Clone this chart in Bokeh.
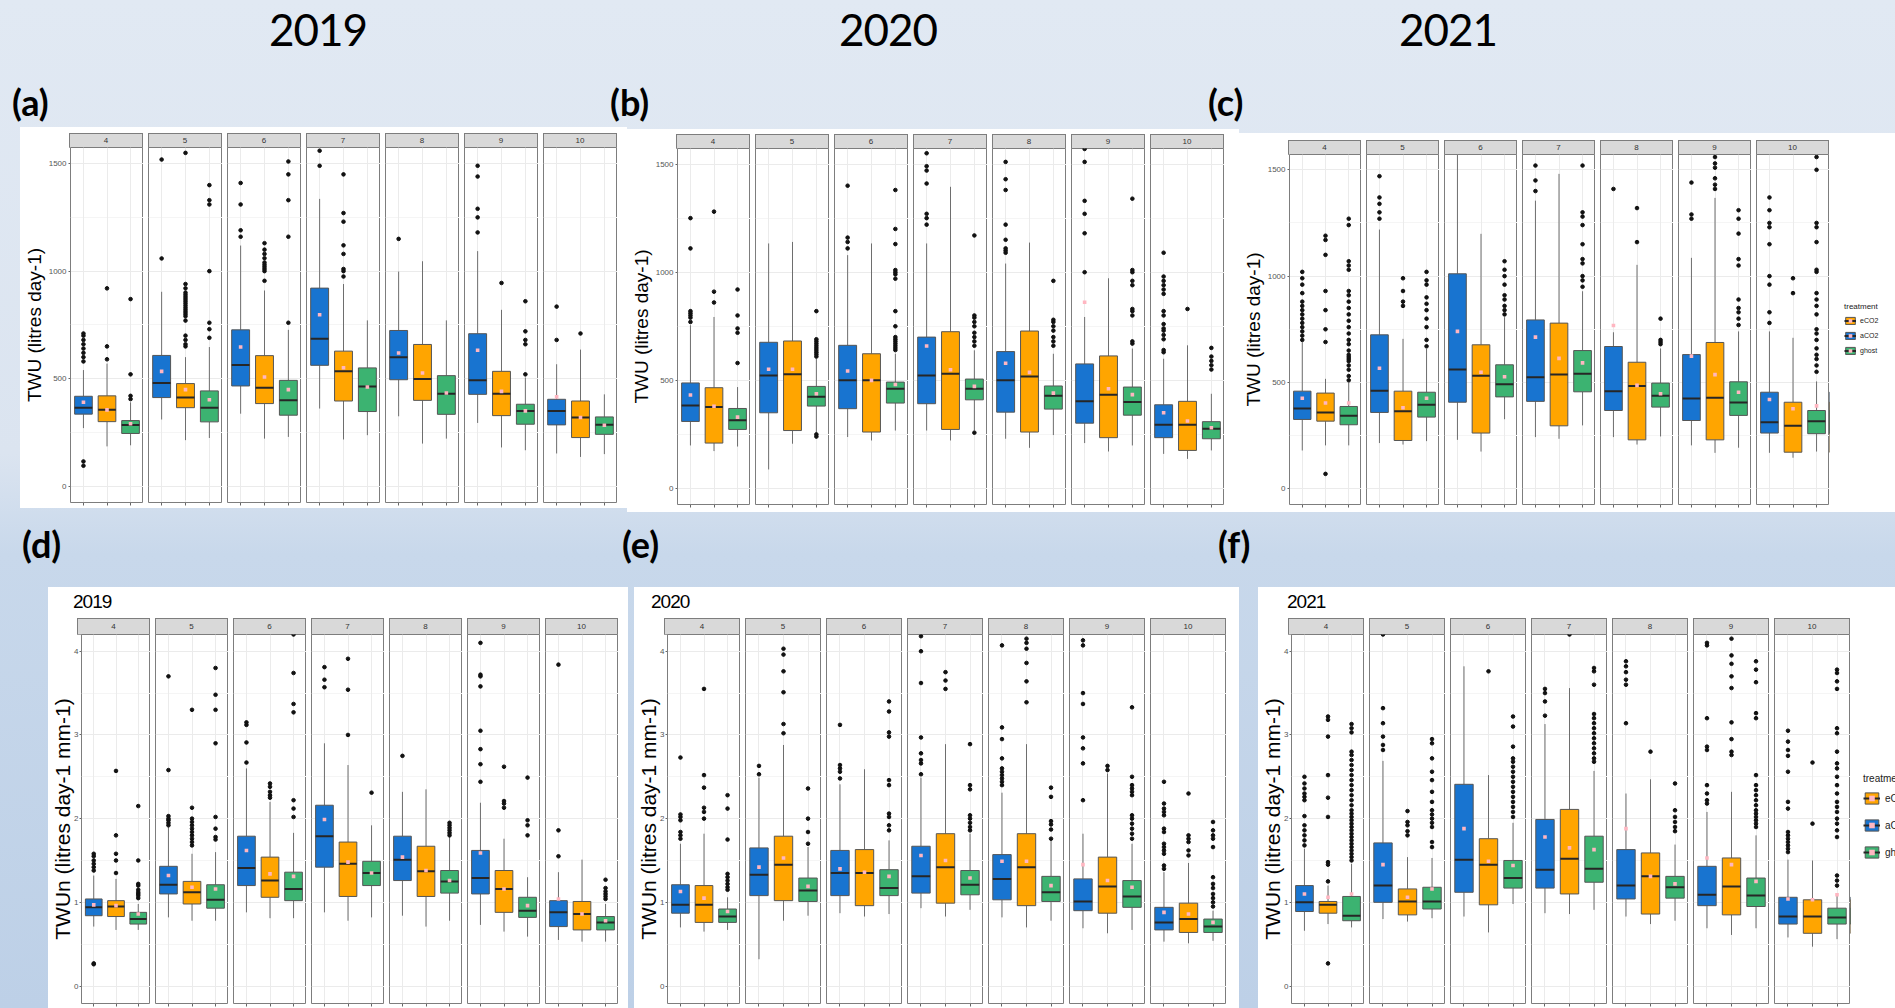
from bokeh.plotting import figure
from bokeh.models import (ColumnDataSource, Range1d, LinearAxis, FixedTicker, Grid, Div,
                          Spacer, Legend, LegendItem, CustomJSTickFormatter)
from bokeh.layouts import row, column
from bokeh.embed import file_html
from bokeh.resources import INLINE

# ---------------------------------------------------------------- data
months = ["4", "5", "6", "7", "8", "9", "10"]
treatments = ["aCO2", "eCO2", "ghost"]
legend_order = ["eCO2", "aCO2", "ghost"]
fill_colors = ["#1874d0", "#ffa500", "#3cb371"]
year_titles = ["2019", "2020", "2021"]
panel_letters = ["(a)", "(b)", "(c)", "(d)", "(e)", "(f)"]
twu_ticks = [0, 500, 1000, 1500]
twu_minor = [250, 750, 1250]
twun_ticks = [0, 1, 2, 3, 4]
twun_minor = [0.5, 1.5, 2.5, 3.5]

# (whisker low, q1, median, q3, whisker high, mean) per month x treatment
twu_2019_stats = [
    (270, 335, 365, 418, 540, 390), (185, 300, 355, 420, 570, 355), (190, 245, 285, 305, 390, 290),
    (310, 412, 480, 608, 904, 534), (214, 365, 412, 477, 600, 449), (224, 299, 365, 443, 647, 402),
    (337, 466, 563, 727, 1119, 647), (221, 384, 458, 607, 910, 508), (229, 330, 400, 492, 727, 449),
    (361, 562, 686, 921, 1336, 797), (217, 396, 534, 628, 940, 551), (237, 347, 464, 550, 771, 461),
    (325, 495, 600, 724, 998, 619), (198, 399, 498, 659, 1046, 526), (221, 334, 430, 514, 771, 433),
    (294, 427, 492, 709, 1093, 632), (180, 328, 430, 534, 820, 441), (167, 288, 350, 381, 505, 350),
    (152, 285, 350, 404, 567, 415), (136, 226, 319, 396, 635, 319), (149, 241, 286, 322, 427, 283),
]
twu_2019_out = [
    [580, 600, 620, 640, 660, 680, 700, 710, 115, 95], [590, 650, 920], [405, 420, 520, 870],
    [1059, 1519], [650, 660, 680, 700, 770, 790, 800, 810, 820, 830, 840, 850, 860, 870, 880, 890, 900, 920, 940, 1550],
    [690, 730, 760, 1000, 1310, 1330, 1400],
    [1160, 1190, 1310, 1410], [955, 1000, 1010, 1020, 1030, 1040, 1060, 1080, 1100, 1130], [760, 1160, 1330, 1450, 1510],
    [1490, 1560], [975, 1000, 1010, 1080, 1120, 1230, 1270, 1450], [],
    [1150], [], [],
    [1180, 1250, 1290, 1440, 1490], [945], [520, 660, 680, 720, 860],
    [680, 835], [710], [],
]

twu_2020_stats = [
    (199, 310, 384, 488, 755, 432), (173, 210, 377, 466, 793, 380), (194, 273, 315, 370, 469, 330),
    (88, 350, 523, 676, 1133, 551), (207, 268, 528, 682, 1140, 551), (238, 381, 424, 472, 600, 438),
    (238, 369, 500, 662, 1079, 543), (222, 261, 500, 623, 1133, 500), (268, 395, 461, 492, 623, 481),
    (268, 392, 523, 700, 1133, 659), (222, 273, 531, 725, 1395, 549), (268, 410, 461, 506, 639, 472),
    (230, 353, 500, 633, 1040, 579), (188, 261, 518, 728, 1137, 537), (247, 367, 429, 474, 623, 441),
    (210, 302, 403, 576, 793, 861), (171, 235, 434, 613, 972, 461), (199, 339, 400, 469, 647, 434),
    (160, 235, 295, 387, 600, 350), (137, 176, 295, 403, 662, 312), (176, 230, 276, 309, 438, 281),
]
twu_2020_out = [
    [770, 790, 800, 810, 820, 1110, 1250], [860, 910, 1280], [580, 720, 740, 800, 920],
    [], [], [240, 250, 610, 620, 630, 640, 650, 660, 670, 680, 690, 820],
    [1110, 1140, 1160, 1400], [], [640, 650, 660, 670, 680, 690, 700, 750, 820, 970, 990, 1000, 1010, 1130, 1200, 1380],
    [1220, 1250, 1270, 1410, 1470, 1490, 1550], [], [258, 660, 680, 700, 720, 750, 770, 790, 800, 1170],
    [1090, 1100, 1110, 1150, 1220, 1380, 1430, 1510], [], [660, 680, 700, 730, 750, 770, 780, 960],
    [1000, 1180, 1270, 1330, 1510, 1570], [], [670, 680, 800, 820, 830, 940, 960, 1000, 1010, 1340],
    [630, 640, 690, 710, 730, 740, 760, 800, 820, 900, 920, 940, 960, 980, 1090], [830], [550, 570, 590, 610, 650],
]

twu_2021_stats = [
    (180, 326, 378, 459, 689, 426), (204, 318, 359, 450, 517, 403), (204, 301, 343, 387, 500, 403),
    (215, 359, 461, 724, 1219, 567), (208, 227, 365, 459, 705, 381), (224, 337, 395, 454, 658, 426),
    (230, 407, 561, 1011, 1575, 740), (175, 262, 531, 677, 1199, 548), (327, 432, 492, 583, 807, 527),
    (243, 411, 525, 794, 1355, 713), (235, 296, 537, 779, 1481, 613), (298, 456, 541, 650, 929, 592),
    (243, 368, 459, 669, 736, 768), (208, 230, 483, 595, 1053, 486), (246, 384, 437, 497, 660, 447),
    (204, 321, 425, 631, 1086, 624), (169, 230, 428, 688, 1368, 537), (193, 345, 406, 503, 740, 454),
    (169, 262, 313, 454, 740, 420), (146, 172, 296, 407, 710, 376), (175, 259, 318, 368, 505, 390),
]
twu_2021_out = [
    [700, 720, 740, 760, 780, 800, 820, 840, 860, 880, 920, 960, 990, 1020],
    [70, 690, 750, 840, 930, 1100, 1170, 1190],
    [510, 530, 560, 580, 600, 610, 620, 630, 650, 680, 700, 730, 760, 790, 820, 850, 880, 910, 930, 1030, 1050, 1070, 1240, 1270],
    [1270, 1300, 1340, 1370, 1470], [860, 880, 930, 990], [670, 700, 760, 800, 840, 870, 900, 960, 980, 1020],
    [], [], [820, 840, 860, 890, 910, 960, 1000, 1030, 1070],
    [1400, 1450, 1520], [], [950, 980, 1000, 1060, 1080, 1150, 1240, 1280, 1300, 1520],
    [1410], [1160, 1320], [680, 690, 700, 800],
    [1270, 1290, 1440], [1410, 1430, 1460, 1510, 1530, 1560], [770, 800, 830, 850, 890, 1050, 1080, 1200, 1270, 1310],
    [780, 830, 960, 1000, 1150, 1230, 1250, 1310, 1370], [920, 990],
    [550, 580, 610, 630, 660, 700, 730, 750, 820, 860, 890, 920, 1020, 1030, 1160, 1230, 1250, 1500, 1560],
]

twun_2019_stats = [
    (0.71, 0.84, 0.94, 1.04, 1.32, 0.97), (0.67, 0.83, 0.95, 1.02, 1.28, 0.96), (0.67, 0.74, 0.80, 0.88, 0.98, 0.86),
    (0.82, 1.10, 1.21, 1.43, 1.90, 1.32), (0.78, 0.98, 1.12, 1.25, 1.58, 1.18), (0.78, 0.93, 1.03, 1.21, 1.60, 1.16),
    (0.88, 1.20, 1.41, 1.79, 2.60, 1.62), (0.81, 1.06, 1.26, 1.54, 2.20, 1.34), (0.81, 1.02, 1.16, 1.36, 1.83, 1.31),
    (0.88, 1.42, 1.79, 2.16, 2.90, 1.99), (0.78, 1.07, 1.46, 1.72, 2.64, 1.48), (0.82, 1.20, 1.35, 1.49, 1.92, 1.35),
    (0.84, 1.26, 1.51, 1.79, 2.32, 1.54), (0.71, 1.07, 1.37, 1.67, 2.35, 1.38), (0.78, 1.11, 1.25, 1.38, 1.78, 1.26),
    (0.73, 1.10, 1.29, 1.62, 2.19, 1.59), (0.65, 0.88, 1.16, 1.38, 1.76, 1.16), (0.59, 0.82, 0.90, 1.06, 1.30, 0.96),
    (0.55, 0.71, 0.88, 1.02, 1.36, 1.04), (0.53, 0.67, 0.86, 1.01, 1.51, 0.86), (0.53, 0.67, 0.76, 0.83, 0.98, 0.78),
]
twun_2019_out = [
    [1.38, 1.42, 1.46, 1.5, 1.55, 1.58, 0.27, 0.26], [1.35, 1.5, 1.58, 1.8, 2.57], [1.05, 1.08, 1.1, 1.12, 1.15, 1.2, 1.22, 1.5, 2.15],
    [1.92, 1.95, 1.98, 2.0, 2.03, 2.58, 3.7], [1.68, 1.72, 1.76, 1.8, 1.84, 1.88, 1.92, 1.96, 2.0, 2.13, 3.3],
    [1.75, 1.78, 1.88, 2.02, 2.9, 3.3, 3.48, 3.8],
    [2.67, 2.91, 3.12, 3.15], [2.25, 2.28, 2.32, 2.38, 2.42], [2.02, 2.12, 2.22, 3.27, 3.37, 3.74, 4.2],
    [3.57, 3.66, 3.81], [3.0, 3.54, 3.91], [2.31],
    [2.75], [], [1.8, 1.83, 1.86, 1.89, 1.92, 1.95],
    [2.44, 2.65, 2.83, 3.05, 3.58, 3.7, 3.72, 4.1], [2.13, 2.18, 2.21, 2.62], [1.80, 1.92, 1.98, 2.49],
    [1.55, 1.86, 3.84], [], [1.04, 1.07, 1.1, 1.13, 1.17, 1.27],
]

twun_2020_stats = [
    (0.70, 0.87, 0.97, 1.21, 1.70, 1.13), (0.65, 0.76, 0.97, 1.20, 1.82, 1.05), (0.67, 0.76, 0.83, 0.92, 1.06, 0.89),
    (0.32, 1.08, 1.33, 1.65, 2.49, 1.42), (0.78, 1.02, 1.45, 1.79, 2.88, 1.53), (0.84, 1.01, 1.14, 1.29, 1.66, 1.19),
    (0.87, 1.08, 1.35, 1.62, 2.41, 1.40), (0.83, 0.96, 1.35, 1.63, 2.59, 1.36), (0.86, 1.08, 1.17, 1.39, 1.74, 1.31),
    (0.93, 1.11, 1.31, 1.67, 2.49, 1.56), (0.83, 0.99, 1.42, 1.82, 2.89, 1.50), (0.91, 1.09, 1.21, 1.38, 1.82, 1.29),
    (0.82, 1.03, 1.28, 1.57, 2.31, 1.49), (0.70, 0.96, 1.42, 1.82, 2.89, 1.49), (0.78, 1.01, 1.12, 1.31, 1.74, 1.20),
    (0.69, 0.90, 1.01, 1.28, 1.82, 1.45), (0.63, 0.87, 1.19, 1.54, 2.54, 1.26), (0.67, 0.94, 1.07, 1.26, 1.70, 1.18),
    (0.53, 0.67, 0.76, 0.94, 1.36, 0.88), (0.51, 0.64, 0.80, 0.99, 1.47, 0.86), (0.54, 0.64, 0.71, 0.80, 0.90, 0.76),
]
twun_2020_out = [
    [1.76, 1.8, 1.84, 1.98, 2.02, 2.05, 2.73], [2.0, 2.08, 2.13, 2.37, 2.52, 3.55], [1.15, 1.18, 1.22, 1.26, 1.30, 1.34, 1.75, 2.12, 2.28],
    [2.53, 2.63], [3.02, 3.13, 3.51, 3.76, 3.96, 4.03], [1.7, 1.84, 2.0, 2.36],
    [2.48, 2.56, 2.6, 2.64, 3.12], [], [1.86, 1.92, 2.02, 2.06, 2.4, 2.46, 2.98, 3.03, 3.28, 3.4],
    [2.53, 2.66, 2.7, 2.78, 2.97, 3.62, 4.0, 4.18], [3.55, 3.65, 3.75], [1.86, 1.9, 1.95, 2.0, 2.04, 2.35, 2.4, 2.89],
    [2.4, 2.44, 2.48, 2.52, 2.56, 2.6, 2.72, 2.95, 3.09, 4.07], [3.39, 3.64, 3.86, 4.03, 4.1, 4.15], [1.76, 1.87, 1.93, 1.97, 2.26, 2.37],
    [2.22, 2.66, 2.84, 2.97, 3.37, 3.5, 4.07, 4.13], [2.58, 2.63],
    [1.76, 1.82, 1.88, 1.94, 2.0, 2.04, 2.28, 2.32, 2.36, 2.4, 2.5, 3.33],
    [1.4, 1.44, 1.58, 1.62, 1.66, 1.7, 1.84, 1.88, 2.04, 2.08, 2.12, 2.18, 2.44], [1.56, 1.62, 1.72, 1.76, 1.8, 2.3],
    [0.95, 1.0, 1.05, 1.1, 1.17, 1.22, 1.3, 1.66, 1.76, 1.8, 1.86, 1.96],
]

twun_2021_stats = [
    (0.66, 0.89, 1.00, 1.20, 1.64, 1.10), (0.74, 0.87, 0.97, 1.01, 1.20, 1.06), (0.70, 0.78, 0.84, 1.07, 1.46, 1.10),
    (0.80, 1.00, 1.20, 1.71, 2.69, 1.45), (0.77, 0.85, 1.01, 1.16, 1.54, 1.06), (0.81, 0.92, 1.01, 1.18, 1.53, 1.16),
    (0.83, 1.12, 1.51, 2.41, 3.82, 1.88), (0.64, 0.97, 1.45, 1.76, 2.52, 1.49), (0.98, 1.17, 1.29, 1.50, 1.95, 1.44),
    (0.87, 1.17, 1.39, 1.99, 3.13, 1.78), (0.86, 1.10, 1.52, 2.11, 3.56, 1.65), (0.91, 1.24, 1.40, 1.79, 2.57, 1.63),
    (0.83, 1.04, 1.20, 1.63, 2.30, 1.88), (0.74, 0.86, 1.31, 1.59, 2.47, 1.31), (0.78, 1.05, 1.18, 1.31, 1.69, 1.22),
    (0.69, 0.96, 1.09, 1.43, 2.08, 1.53), (0.61, 0.85, 1.19, 1.53, 2.32, 1.45), (0.69, 0.95, 1.08, 1.29, 1.80, 1.25),
    (0.58, 0.74, 0.83, 1.06, 1.51, 1.04), (0.47, 0.63, 0.83, 1.03, 1.50, 1.03), (0.56, 0.74, 0.82, 0.93, 1.09, 1.09),
]
twun_2021_out = [
    [1.68, 1.74, 1.8, 1.86, 1.92, 2.03, 2.22, 2.26, 2.3, 2.36, 2.42, 2.5],
    [0.27, 1.25, 1.45, 1.48, 2.02, 2.25, 2.52, 2.98, 3.18, 3.22],
    [1.5, 1.54, 1.58, 1.62, 1.66, 1.7, 1.74, 1.78, 1.82, 1.86, 1.9, 1.94, 1.98, 2.02, 2.06, 2.1, 2.16, 2.22, 2.28,
     2.34, 2.4, 2.46, 2.52, 2.58, 2.64, 2.7, 2.76, 2.8, 3.03, 3.08, 3.13],
    [2.82, 2.88, 2.98, 3.14, 3.32, 4.2], [1.8, 1.85, 1.92, 1.96, 2.09],
    [1.66, 1.72, 1.9, 1.95, 2.0, 2.05, 2.1, 2.2, 2.32, 2.46, 2.56, 2.72, 2.9, 2.95],
    [], [3.76], [2.02, 2.08, 2.14, 2.2, 2.26, 2.32, 2.38, 2.44, 2.5, 2.56, 2.62, 2.68, 2.72, 2.86, 3.1, 3.22],
    [3.23, 3.4, 3.5, 3.55], [4.2], [2.68, 2.72, 2.78, 2.84, 2.9, 2.96, 3.02, 3.08, 3.14, 3.2, 3.25, 3.6, 3.76, 3.8],
    [3.14, 3.6, 3.66, 3.75, 3.82, 3.88], [2.8], [1.85, 1.9, 1.96, 2.02, 2.1, 2.42],
    [2.18, 2.22, 2.3, 2.4, 2.82, 2.86, 3.2, 4.07, 4.1], [2.76, 2.8, 2.95, 3.15, 3.56, 3.7, 3.85, 3.95, 4.15],
    [1.9, 1.94, 1.98, 2.02, 2.06, 2.1, 2.16, 2.22, 2.28, 2.34, 2.4, 2.52, 3.2, 3.26, 3.63, 3.78, 3.88],
    [1.6, 1.64, 1.68, 1.72, 1.76, 1.8, 1.84, 2.12, 2.2, 2.56, 2.75, 2.82, 2.92, 3.05], [1.94, 2.67],
    [1.2, 1.26, 1.32, 1.78, 1.86, 1.94, 2.0, 2.08, 2.14, 2.2, 2.3, 2.4, 2.5, 2.6, 2.66, 2.8, 3.02, 3.08, 3.55, 3.64, 3.74, 3.78],
]

# ---------------------------------------------------------------- helpers
FONT = "Liberation Sans"
TITLE_FONT = "Lato"


def text_div(txt, w, h, size, lh, pad_left=0, weight="normal", family=FONT, align="left", spacing=0):
    html = (f'<div style="width:{w}px;height:{h}px;line-height:{lh}px;padding-left:{pad_left}px;'
            f'box-sizing:border-box;font-family:{family};font-size:{size}px;font-weight:{weight};'
            f'letter-spacing:{spacing}px;text-align:{align};color:#000;white-space:nowrap;">{txt}</div>')
    return Div(text=html, width=w, height=h, margin=0)


def strip_div(label, w, h, fs):
    html = (f'<div style="width:{w}px;height:{h}px;box-sizing:border-box;background:#d9d9d9;'
            f'border:1px solid #7d7d7d;text-align:center;line-height:{h - 2}px;font-family:{FONT};'
            f'font-size:{fs}px;color:#333;">{label}</div>')
    return Div(text=html, width=w, height=h, margin=0)


def sp(w, h):
    return Spacer(width=w, height=h, margin=0)


def month_source(stats, m):
    rows3 = stats[m * 3:(m + 1) * 3]
    xs = [i + 1 for i in range(len(treatments))]
    return ColumnDataSource(dict(
        x=xs, left=[x - 0.375 for x in xs], right=[x + 0.375 for x in xs],
        lo=[r[0] for r in rows3], q1=[r[1] for r in rows3], med=[r[2] for r in rows3],
        q3=[r[3] for r in rows3], hi=[r[4] for r in rows3], mean=[r[5] for r in rows3],
        color=fill_colors))


def draw_boxes(p, src):
    p.segment("x", "lo", "x", "q1", source=src, line_color="#6e6e6e", line_width=1)
    p.segment("x", "q3", "x", "hi", source=src, line_color="#6e6e6e", line_width=1)
    box = p.vbar(x="x", width=0.75, bottom="q1", top="q3", source=src,
                 fill_color="color", line_color="#555555", line_width=1)
    med = p.segment("left", "med", "right", "med", source=src, line_color="#262626", line_width=2)
    return box, med


def make_facet(stats, outs, m, cfg, first):
    fw = cfg["fw"]
    left = cfg["left"] if first else cfg["gap"]
    bottom = cfg["bottom"]
    p = figure(width=left + fw, height=cfg["fh"] + bottom,
               x_range=Range1d(0.45, 3.55), y_range=Range1d(cfg["y0"], cfg["y1"]),
               x_axis_type=None, y_axis_type=None, toolbar_location=None, output_backend="svg",
               min_border_left=left, min_border_right=0, min_border_top=0, min_border_bottom=bottom,
               background_fill_color="white", border_fill_color="white",
               outline_line_color="#7d7d7d", outline_line_width=1, margin=0)
    p.add_layout(Grid(dimension=1, ticker=FixedTicker(ticks=cfg["major"], minor_ticks=cfg["minor"]),
                      grid_line_color="#ebebeb", grid_line_width=1,
                      minor_grid_line_color="#f5f5f5", minor_grid_line_width=1))
    p.add_layout(Grid(dimension=0, ticker=FixedTicker(ticks=[1, 2, 3]),
                      grid_line_color="#ebebeb", grid_line_width=1))
    src = month_source(stats, m)
    draw_boxes(p, src)
    ox, oy = [], []
    for ti in range(len(treatments)):
        for v in outs[m * 3 + ti]:
            ox.append(ti + 1)
            oy.append(v)
    p.scatter(ox, oy, size=3.6, color="#111111")
    p.scatter("x", "mean", source=src, marker="square", size=3.6, fill_color="#ffb6c1", line_color=None)

    ax = LinearAxis(ticker=FixedTicker(ticks=[1, 2, 3]),
                    formatter=CustomJSTickFormatter(code="return ''"),
                    major_label_text_font_size="6px",
                    major_label_standoff=0, major_tick_in=0, major_tick_out=3, minor_tick_out=0,
                    axis_line_color=None, major_tick_line_color="#666666")
    p.add_layout(ax, "below")
    if first:
        ay = LinearAxis(ticker=FixedTicker(ticks=cfg["major"], minor_ticks=[]),
                        axis_label=cfg["ylabel"], axis_label_text_font=FONT,
                        axis_label_text_font_size=f'{cfg["ylabel_size"]}px',
                        axis_label_text_font_style="normal", axis_label_text_color="#000000",
                        axis_label_standoff=cfg["ylabel_standoff"],
                        major_label_text_font=FONT, major_label_text_font_size="8px",
                        major_label_text_color="#555555", major_label_standoff=cfg["tick_standoff"],
                        major_tick_in=0, major_tick_out=2, minor_tick_out=0, minor_tick_in=0,
                        axis_line_color=None, major_tick_line_color="#666666")
        p.add_layout(ay, "left")
    return p


def make_legend_fig(stats, cfg):
    lg = cfg["legend"]
    h = cfg["fh"] + cfg["bottom"]
    p = figure(width=lg["w"], height=h, x_range=Range1d(100, 101), y_range=Range1d(cfg["y0"], cfg["y1"]),
               x_axis_type=None, y_axis_type=None, toolbar_location=None, output_backend="svg",
               min_border_left=0, min_border_right=0, min_border_top=0, min_border_bottom=0,
               background_fill_color="white", border_fill_color="white", outline_line_color=None, margin=0)
    src = month_source(stats, len(months) - 1)
    box, med = draw_boxes(p, src)
    mn = p.scatter("x", "mean", source=src, marker="square", size=3.6, fill_color="#ffb6c1", line_color=None)
    items = [LegendItem(label=t, renderers=[box, med, mn], index=treatments.index(t)) for t in legend_order]
    leg = Legend(items=items, location=(lg["dx"], lg["y"]), title="treatment",
                 title_text_font=FONT, title_text_font_size=f'{lg["title_size"]}px',
                 title_text_font_style="normal", title_text_color="#222",
                 label_text_font=FONT, label_text_font_size=f'{lg["label_size"]}px',
                 label_text_color="#222",
                 glyph_width=lg["gw"], glyph_height=lg["gh"], label_height=lg["gh"],
                 label_standoff=lg["standoff"], spacing=lg["spacing"], title_standoff=lg["title_standoff"],
                 padding=0, margin=0, background_fill_alpha=0, border_line_color=None)
    p.add_layout(leg)
    return p


def make_panel(stats, outs, cfg):
    kids = []
    if cfg.get("top_pad"):
        kids.append(sp(cfg["width"], cfg["top_pad"]))
    if cfg.get("title"):
        kids.append(text_div(cfg["title"], cfg["width"], cfg["title_h"], cfg["title_size"],
                             cfg["title_h"], pad_left=cfg["title_x"], spacing=cfg["title_spacing"]))
    strips = [sp(cfg["left"], cfg["strip_h"])]
    for i, mlab in enumerate(months):
        if i:
            strips.append(sp(cfg["gap"], cfg["strip_h"]))
        strips.append(strip_div(mlab, cfg["fw"], cfg["strip_h"], cfg["strip_fs"]))
    used = cfg["left"] + 7 * cfg["fw"] + 6 * cfg["gap"]
    strips.append(sp(cfg["width"] - used, cfg["strip_h"]))
    kids.append(row(*strips, width=cfg["width"], height=cfg["strip_h"], margin=0))
    figs = [make_facet(stats, outs, m, cfg, m == 0) for m in range(len(months))]
    fig_h = cfg["fh"] + cfg["bottom"]
    if cfg.get("legend"):
        figs.append(make_legend_fig(stats, cfg))
        used += cfg["legend"]["w"]
    if cfg["width"] - used > 0:
        figs.append(sp(cfg["width"] - used, fig_h))
    kids.append(row(*figs, width=cfg["width"], height=fig_h, margin=0))
    total_h = cfg.get("top_pad", 0) + cfg.get("title_h", 0) + cfg["strip_h"] + fig_h
    return column(*kids, width=cfg["width"], height=total_h, margin=0,
                  styles={"background-color": "white"})


top_common = dict(major=twu_ticks, minor=twu_minor, ylabel="TWU (litres day-1)", ylabel_size=19,
                  ylabel_standoff=1, tick_standoff=2, strip_h=16, strip_fs=8, gap=5)
cfg_a = dict(top_common, width=607, top_pad=4, left=49, fw=74, fh=355, bottom=6, y1=1575, y0=-76)
cfg_b = dict(top_common, width=612, top_pad=3, left=49, fw=74, fh=356, bottom=8, y1=1572, y0=-74)
cfg_c = dict(top_common, width=656, top_pad=5, left=49, fw=73, fh=350, bottom=8, y1=1572, y0=-74,
             legend=dict(w=66, dx=15, y=149, title_size=8, label_size=7, gw=12, gh=9, standoff=4,
                         spacing=6, title_standoff=5))

bot_common = dict(major=twun_ticks, minor=twun_minor, ylabel="TWUn (litres day-1 mm-1)", ylabel_size=21,
                  ylabel_standoff=-3, tick_standoff=1, strip_h=17, strip_fs=8, y0=-0.209, y1=4.20,
                  gap=5, fh=369, bottom=5, title_h=30, title_size=19, title_spacing=-1)
cfg_d = dict(bot_common, width=580, left=29, fw=73, title="2019", title_x=25)
cfg_e = dict(bot_common, width=605, left=30, fw=76, title="2020", title_x=17)
cfg_f = dict(bot_common, width=637, left=30, fw=76, title="2021", title_x=29,
             legend=dict(w=45, dx=13, y=144, title_size=10, label_size=10, gw=17, gh=14, standoff=5,
                         spacing=13, title_standoff=7))

panel_a = make_panel(twu_2019_stats, twu_2019_out, cfg_a)
panel_b = make_panel(twu_2020_stats, twu_2020_out, cfg_b)
panel_c = make_panel(twu_2021_stats, twu_2021_out, cfg_c)
panel_d = make_panel(twun_2019_stats, twun_2019_out, cfg_d)
panel_e = make_panel(twun_2020_stats, twun_2020_out, cfg_e)
panel_f = make_panel(twun_2021_stats, twun_2021_out, cfg_f)

W = 1895

titles_row = row(
    text_div(year_titles[0], 636, 74, 44, 58, align="center", family=TITLE_FONT, spacing=-1),
    text_div(year_titles[1], 504, 74, 44, 58, align="center", family=TITLE_FONT, spacing=-1),
    text_div(year_titles[2], 616, 74, 44, 58, align="center", family=TITLE_FONT, spacing=-1),
    sp(W - 1756, 74), width=W, height=74, margin=0)

labels_row1 = row(
    text_div(panel_letters[0], 610, 50, 36, 56, pad_left=12, weight="bold", family=TITLE_FONT),
    text_div(panel_letters[1], 598, 50, 36, 56, pad_left=0, weight="bold", family=TITLE_FONT),
    text_div(panel_letters[2], W - 1208, 50, 36, 56, pad_left=0, weight="bold", family=TITLE_FONT),
    width=W, height=50, margin=0)

panels_row1 = row(
    sp(20, 388),
    column(sp(607, 3), panel_a, width=607, height=388, margin=0),
    column(sp(612, 5), panel_b, width=612, height=388, margin=0),
    column(sp(656, 9), panel_c, width=656, height=388, margin=0),
    width=W, height=388, margin=0)

labels_row2 = row(
    text_div(panel_letters[3], 622, 75, 36, 64, pad_left=22, weight="bold", family=TITLE_FONT),
    text_div(panel_letters[4], 596, 75, 36, 64, pad_left=0, weight="bold", family=TITLE_FONT),
    text_div(panel_letters[5], W - 1218, 75, 36, 64, pad_left=0, weight="bold", family=TITLE_FONT),
    width=W, height=75, margin=0)

panels_row2 = row(
    sp(48, 421), panel_d, sp(6, 421), panel_e, sp(19, 421), panel_f,
    width=W, height=421, margin=0)

root = column(titles_row, labels_row1, panels_row1, labels_row2, panels_row2, width=W, height=1008, margin=0,
              styles={"background": "linear-gradient(180deg, #e1e9f3 0%, #dbe4f0 45%, #c8d8eb 55%, #bdd0e7 100%)"})

open("out.html", "w").write(file_html(root, INLINE))
